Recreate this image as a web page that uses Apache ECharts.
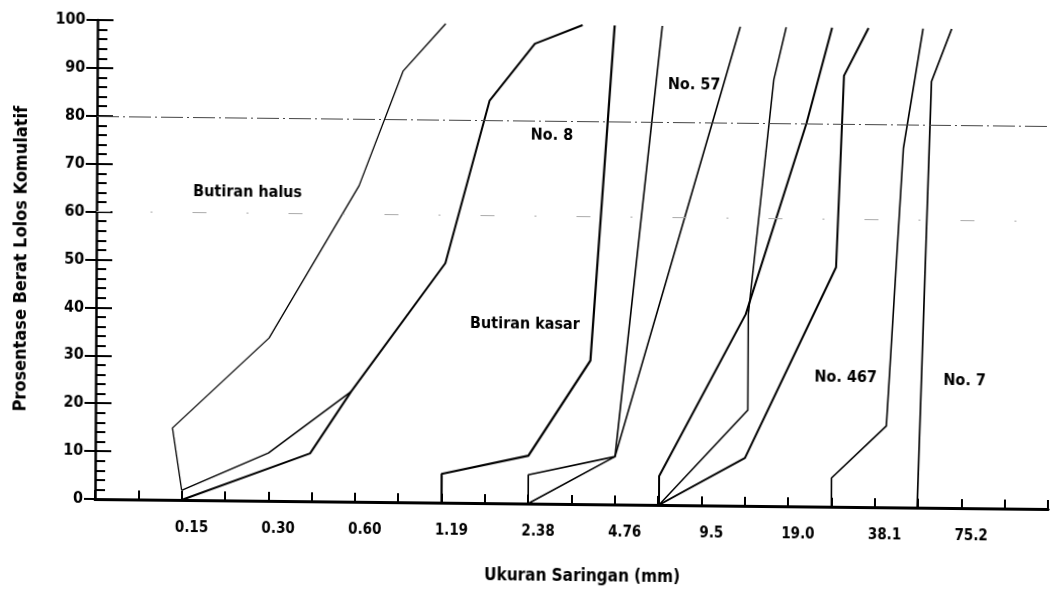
<!DOCTYPE html>
<html>
<head>
<meta charset="utf-8">
<script src="https://cdn.jsdelivr.net/npm/echarts@6.0.0/dist/echarts.min.js"></script>
<style>
  html, body { margin: 0; background: #fff; }
  /* the scanned original is slightly skewed */
  #chart { width: 1051px; height: 591px; transform: skewY(0.6deg) skewX(-0.3deg); transform-origin: 95px 499px; }
</style>
</head>
<body>
<div id="chart"></div>
<script>
// x = sieve position (0.15 -> 1, 0.30 -> 2, ...), y = % passing
const sieveLabels = ['0.15', '0.30', '0.60', '1.19', '2.38', '4.76', '9.5', '19.0', '38.1', '75.2']

const halusAtas = [[1.0, 2], [0.89, 15], [2.0, 34], [3.03, 66], [3.53, 90], [4.02, 100]]
const halusBawah = [[1.0, 2], [2.0, 10], [2.95, 23]]
const no8Kiri = [[1.0, 0], [2.48, 10], [2.95, 23], [4.03, 50], [4.53, 84], [5.05, 96], [5.6, 100]]
const kasarKanan = [[4.0, 0], [4.0, 6], [5.0, 10], [5.71, 30], [5.97, 100]]
const no57Kiri = [[5.0, 0], [5.0, 6], [6.0, 10], [6.52, 100]]
const no57Kanan = [[5.0, 0], [6.0, 10], [7.42, 100]]
const no467a = [[6.51, 0], [7.53, 20], [7.53, 40], [7.81, 89], [7.95, 100]]
const no467b = [[6.51, 0], [6.51, 6], [7.5, 40], [8.19, 80], [8.48, 100]]
const no467c = [[6.51, 0], [7.5, 10], [8.54, 50], [8.62, 90], [8.9, 100]]
const no467d = [[8.5, 0], [8.5, 6], [9.13, 17], [9.31, 75], [9.53, 100]]
const no7 = [[9.49, 0], [9.63, 89], [9.86, 100]]

const font = "'DejaVu Sans Condensed', 'Liberation Sans Narrow', 'DejaVu Sans', sans-serif"

const lines = [
  { name: 'halusAtas', data: halusAtas, width: 1.3 },
  { name: 'halusBawah', data: halusBawah, width: 1.5 },
  { name: 'no8Kiri', data: no8Kiri, width: 2 },
  { name: 'kasarKanan', data: kasarKanan, width: 2.2 },
  { name: 'no57Kiri', data: no57Kiri, width: 1.6 },
  { name: 'no57Kanan', data: no57Kanan, width: 1.6 },
  { name: 'no467a', data: no467a, width: 1.5 },
  { name: 'no467b', data: no467b, width: 2 },
  { name: 'no467c', data: no467c, width: 2 },
  { name: 'no467d', data: no467d, width: 1.6 },
  { name: 'no7', data: no7, width: 1.7 }
]

const series = lines.map(item => {
  return {
    name: item.name,
    type: 'line',
    symbol: 'none',
    data: item.data,
    lineStyle: { color: '#000', width: item.width },
    z: 3
  }
})

// dash-dot reference lines
series[0].markLine = {
  symbol: 'none',
  silent: true,
  label: { show: false },
  data: [
    { yAxis: 80, lineStyle: { color: '#444', width: 1, type: [22, 4, 2, 4] } },
    { yAxis: 60, lineStyle: { color: '#aaa', width: 1, type: [14, 40, 2, 40] } }
  ]
}

const notes = [
  { text: 'Butiran halus', x: 246, y: 191 },
  { text: 'No. 8', x: 550, y: 131 },
  { text: 'No. 57', x: 692, y: 79 },
  { text: 'Butiran kasar', x: 524, y: 320 },
  { text: 'No. 467', x: 845, y: 370 },
  { text: 'No. 7', x: 964, y: 372 }
]

const option = {
  animation: false,
  backgroundColor: '#fff',
  grid: { left: 95, top: 20, width: 957, height: 479 },
  xAxis: [
    {
      type: 'value',
      min: 0,
      max: 11,
      interval: 0.5,
      name: 'Ukuran Saringan (mm)',
      nameLocation: 'middle',
      nameGap: 64,
      nameTextStyle: { color: '#000', fontSize: 17, fontWeight: 'bold', fontFamily: font, padding: [0, 0, 0, 22] },
      axisLine: { lineStyle: { color: '#000', width: 2.5 } },
      axisTick: { inside: true, length: 9, lineStyle: { color: '#000', width: 2 } },
      axisLabel: {
        color: '#000',
        fontSize: 15,
        fontWeight: 'bold',
        fontFamily: font,
        margin: 21,
        padding: [0, 0, 0, 20],
        formatter: val => {
          if (Number.isInteger(val) && val >= 1 && val <= 10) return sieveLabels[val - 1]
          return ''
        }
      },
      splitLine: { show: false }
    },
    {
      type: 'value',
      position: 'top',
      min: 0,
      max: 11,
      axisLine: { show: true, lineStyle: { color: '#000', width: 3 } },
      axisTick: { show: false },
      axisLabel: { show: false },
      splitLine: { show: false }
    }
  ],
  yAxis: [
    {
      type: 'value',
      min: 0,
      max: 100,
      interval: 10,
      name: 'Prosentase Berat Lolos Komulatif',
      nameLocation: 'middle',
      nameGap: 66,
      nameTextStyle: { color: '#000', fontSize: 18, fontWeight: 'bold', fontFamily: font },
      axisLine: { show: true, lineStyle: { color: '#000', width: 2.5 } },
      axisTick: { inside: true, length: 16, lineStyle: { color: '#000', width: 2 } },
      minorTick: { show: true, splitNumber: 5, length: 10, lineStyle: { color: '#000', width: 2 } },
      axisLabel: { color: '#000', fontSize: 16, fontWeight: 'bold', fontFamily: font, margin: 12 },
      splitLine: { show: false }
    },
    {
      type: 'value',
      min: 0,
      max: 100,
      interval: 10,
      position: 'left',
      axisLine: { show: false },
      axisTick: { show: true, length: 11, lineStyle: { color: '#000', width: 2 } },
      axisLabel: { show: false },
      splitLine: { show: false }
    }
  ],
  graphic: notes.map(n => {
    return {
      type: 'text',
      x: n.x,
      y: n.y,
      style: {
        text: n.text,
        fill: '#000',
        fontSize: 16,
        fontWeight: 'bold',
        fontFamily: font,
        align: 'center',
        verticalAlign: 'middle'
      }
    }
  }),
  series: series
}

const chart = echarts.init(document.getElementById('chart'))
chart.setOption(option)
</script>
</body>
</html>
